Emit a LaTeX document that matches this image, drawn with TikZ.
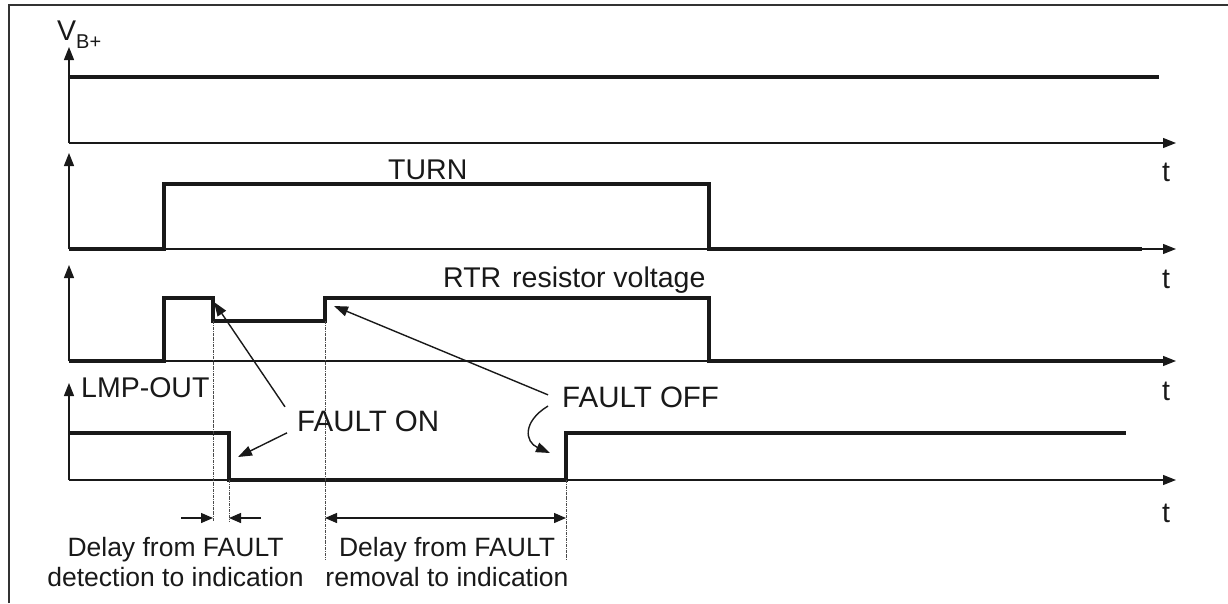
\documentclass[tikz,border=0pt]{standalone}
\usepackage{fontspec}
\setmainfont{Liberation Sans}
\usetikzlibrary{arrows.meta}
\begin{document}
\begin{tikzpicture}[x=1pt,y=-1pt,
  sig/.style={line width=3.2pt, line join=miter, black!90},
  axisarr/.style={line width=1.3pt, black!90, -{Triangle[length=13pt,width=10pt]}},
  ann/.style={line width=1.4pt, black!90, -{Triangle[length=14pt,width=10pt]}},
  dimarr/.style={line width=1.3pt, black!90, -{Triangle[length=12pt,width=10pt]}},
  guide/.style={line width=0.8pt, densely dash dot, black!70},
  lbl/.style={font=\fontsize{28.5}{30}\selectfont, inner sep=0pt, text=black!90},
  sublbl/.style={font=\fontsize{20}{22}\selectfont, inner sep=0pt, text=black!90},
  dlbl/.style={font=\fontsize{26.5}{30}\selectfont, inner sep=0pt, align=center, text=black!90},
]
\useasboundingbox (0,0) rectangle (1228,603);
% frame
\draw[line width=2.2pt, black!80] (9,603) -- (9,5) -- (1228,5);

% V_B+ panel
\coordinate (o1) at (69,143);
\draw[axisarr] (o1) -- (69,47);
\draw[axisarr] (o1) -- (1176,143);
\draw[sig] (69,77) -- (1159,77);
\node[lbl, anchor=base west] (vb) at (57,40) {V};
\node[sublbl, anchor=base west] (vbsub) at (76,48) {B+};

% TURN panel
\coordinate (o2) at (69,249);
\draw[axisarr] (o2) -- (69,153);
\draw[axisarr] (o2) -- (1176,249);
\draw[sig] (69,249) -- (164,249) -- (164,184) -- (709,184) -- (709,249) -- (1142,249);
\node[lbl, anchor=base west] (turn) at (388,179) {TURN};

% RTR panel
\coordinate (o3) at (69,361);
\draw[axisarr] (o3) -- (69,265);
\draw[axisarr] (o3) -- (1176,361);
\draw[sig] (69,361) -- (164,361) -- (164,298) -- (213,298) -- (213,321) -- (325,321) -- (325,298) -- (709,298) -- (709,361) -- (1163,361);
\node[lbl, anchor=base west] (rtr) at (443,287) {RTR\hspace{3pt} resistor voltage};

% LMP-OUT panel
\coordinate (o4) at (69,480);
\draw[axisarr] (o4) -- (69,383);
\draw[axisarr] (o4) -- (1176,480);
\draw[sig] (69,433) -- (229,433) -- (229,480) -- (566,480) -- (566,433) -- (1126,433);
\node[lbl, anchor=base west] (lmp) at (81,397) {LMP-OUT};

% t labels
\node[lbl] (t1) at (1166,172) {t};
\node[lbl] (t2) at (1166,279) {t};
\node[lbl] (t3) at (1166,391) {t};
\node[lbl] (t4) at (1166,513) {t};

% guide lines
\draw[guide] (213,321) -- (213,522);
\draw[guide] (229,480) -- (229,522);
\draw[guide] (325,321) -- (325,560);
\draw[guide] (566,480) -- (566,560);

% delay arrows
\coordinate (g1) at (213,518);
\coordinate (g2) at (229,518);
\coordinate (g3) at (325,518);
\coordinate (g4) at (566,518);
\draw[dimarr] (181,518) -- (g1);
\draw[dimarr] (261,518) -- (g2);
\draw[dimarr, {Triangle[length=12pt,width=10pt]}-{Triangle[length=12pt,width=10pt]}] (g3) -- (g4);

% fault labels
\node[lbl, font=\fontsize{29.5}{30}\selectfont, anchor=base west] (fon) at (297,431) {FAULT ON};
\node[lbl, font=\fontsize{29.5}{30}\selectfont, anchor=base west] (foff) at (562,407) {FAULT OFF};

% annotation arrows
\coordinate (c1) at (214,302);
\coordinate (c2) at (238,457);
\coordinate (c3) at (334,306);
\coordinate (c4) at (550,453);
\draw[ann] (fon.west) ++(-12,-14) -- (c1);
\draw[ann] (fon.west) ++(-10,12) -- (c2);
\draw[ann] (foff.west) ++(-14,-2) -- (c3);
\draw[ann] (548,406) .. controls (522,422) and (525,442) .. (c4);

% delay texts
\node[dlbl, anchor=north] (d1) at (175.5,537) {Delay from FAULT\\detection to indication};
\node[dlbl, anchor=north] (d2) at (447,537) {Delay from FAULT\\removal to indication};
\end{tikzpicture}
\end{document}
